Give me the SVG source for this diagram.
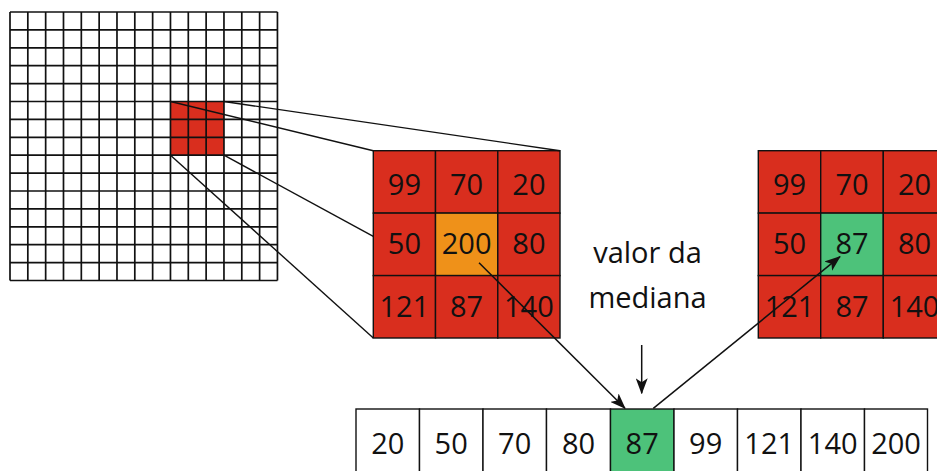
<svg xmlns="http://www.w3.org/2000/svg" width="937" height="471" viewBox="0 0 937 471">
  <style>
    .num { font-family: "Open Sans", "DejaVu Sans", sans-serif; font-size: 29px; fill: #111; text-anchor: middle; }
    .lbl { font-family: "Open Sans", "DejaVu Sans", sans-serif; font-size: 29px; fill: #111; text-anchor: middle; }
    .cell { stroke: #111; stroke-width: 1.4; }
    .red { fill: #d92e1e; }
    .orange { fill: #ef9119; }
    .green { fill: #4dc27a; }
    .white { fill: #ffffff; }
    .gridline { stroke: #111; stroke-width: 1.7; }
    .guide { stroke: #111; stroke-width: 1.4; fill: none; }
    .arrow { stroke: #111; stroke-width: 1.5; fill: none; marker-end: url(#head); }
  </style>
  <defs>
    <marker id="head" viewBox="0 0 16 12" refX="15" refY="6" markerWidth="16" markerHeight="12" markerUnits="userSpaceOnUse" orient="auto">
      <path d="M0,0 L16,6 L0,12 L4,6 Z" fill="#111"/>
    </marker>
  </defs>
  <rect width="937" height="471" fill="#ffffff"/>

  <!-- 15x15 pixel image with the 3x3 neighbourhood highlighted -->
  <g id="image-grid">
    <rect x="170.5" y="101.5" width="53.5" height="53.7" class="red"/>
    <g class="gridline">
      <line x1="10" y1="12" x2="10" y2="280.5"/>
      <line x1="27.83" y1="12" x2="27.83" y2="280.5"/>
      <line x1="45.66" y1="12" x2="45.66" y2="280.5"/>
      <line x1="63.49" y1="12" x2="63.49" y2="280.5"/>
      <line x1="81.32" y1="12" x2="81.32" y2="280.5"/>
      <line x1="99.15" y1="12" x2="99.15" y2="280.5"/>
      <line x1="116.98" y1="12" x2="116.98" y2="280.5"/>
      <line x1="134.81" y1="12" x2="134.81" y2="280.5"/>
      <line x1="152.64" y1="12" x2="152.64" y2="280.5"/>
      <line x1="170.47" y1="12" x2="170.47" y2="280.5"/>
      <line x1="188.3" y1="12" x2="188.3" y2="280.5"/>
      <line x1="206.13" y1="12" x2="206.13" y2="280.5"/>
      <line x1="223.96" y1="12" x2="223.96" y2="280.5"/>
      <line x1="241.79" y1="12" x2="241.79" y2="280.5"/>
      <line x1="259.62" y1="12" x2="259.62" y2="280.5"/>
      <line x1="277.45" y1="12" x2="277.45" y2="280.5"/>
      <line x1="10" y1="12" x2="277.45" y2="12"/>
      <line x1="10" y1="29.9" x2="277.45" y2="29.9"/>
      <line x1="10" y1="47.8" x2="277.45" y2="47.8"/>
      <line x1="10" y1="65.7" x2="277.45" y2="65.7"/>
      <line x1="10" y1="83.6" x2="277.45" y2="83.6"/>
      <line x1="10" y1="101.5" x2="277.45" y2="101.5"/>
      <line x1="10" y1="119.4" x2="277.45" y2="119.4"/>
      <line x1="10" y1="137.3" x2="277.45" y2="137.3"/>
      <line x1="10" y1="155.2" x2="277.45" y2="155.2"/>
      <line x1="10" y1="173.1" x2="277.45" y2="173.1"/>
      <line x1="10" y1="191" x2="277.45" y2="191"/>
      <line x1="10" y1="208.9" x2="277.45" y2="208.9"/>
      <line x1="10" y1="226.8" x2="277.45" y2="226.8"/>
      <line x1="10" y1="244.7" x2="277.45" y2="244.7"/>
      <line x1="10" y1="262.6" x2="277.45" y2="262.6"/>
      <line x1="10" y1="280.5" x2="277.45" y2="280.5"/>
    </g>
  </g>

  <!-- enlarged neighbourhood before filtering -->
  <g id="kernel-window">
    <rect x="373.3" y="150.7" width="62.2" height="62.4" class="cell red"/>
    <rect x="435.5" y="150.7" width="62.3" height="62.4" class="cell red"/>
    <rect x="497.8" y="150.7" width="62.2" height="62.4" class="cell red"/>
    <rect x="373.3" y="213.1" width="62.2" height="62.5" class="cell red"/>
    <rect x="435.5" y="213.1" width="62.3" height="62.5" class="cell orange"/>
    <rect x="497.8" y="213.1" width="62.2" height="62.5" class="cell red"/>
    <rect x="373.3" y="275.6" width="62.2" height="62.4" class="cell red"/>
    <rect x="435.5" y="275.6" width="62.3" height="62.4" class="cell red"/>
    <rect x="497.8" y="275.6" width="62.2" height="62.4" class="cell red"/>
    <text x="404.4" y="194.5" class="num">99</text>
    <text x="466.6" y="194.5" class="num">70</text>
    <text x="528.9" y="194.5" class="num">20</text>
    <text x="404.4" y="254" class="num">50</text>
    <text x="466.6" y="254" class="num">200</text>
    <text x="528.9" y="254" class="num">80</text>
    <text x="404.4" y="316.5" class="num">121</text>
    <text x="466.6" y="316.5" class="num">87</text>
    <text x="528.9" y="316.5" class="num">140</text>
  </g>

  <!-- neighbourhood after filtering; its right column runs past the edge -->
  <g id="median-window">
    <rect x="758.3" y="150.7" width="62.4" height="62.4" class="cell red"/>
    <rect x="820.7" y="150.7" width="62.6" height="62.4" class="cell red"/>
    <rect x="883.3" y="150.7" width="62.4" height="62.4" class="cell red"/>
    <rect x="758.3" y="213.1" width="62.4" height="62.5" class="cell red"/>
    <rect x="820.7" y="213.1" width="62.6" height="62.5" class="cell green"/>
    <rect x="883.3" y="213.1" width="62.4" height="62.5" class="cell red"/>
    <rect x="758.3" y="275.6" width="62.4" height="62.4" class="cell red"/>
    <rect x="820.7" y="275.6" width="62.6" height="62.4" class="cell red"/>
    <rect x="883.3" y="275.6" width="62.4" height="62.4" class="cell red"/>
    <text x="789.5" y="194.5" class="num">99</text>
    <text x="852" y="194.5" class="num">70</text>
    <text x="914.5" y="194.5" class="num">20</text>
    <text x="789.5" y="254" class="num">50</text>
    <text x="852" y="254" class="num">87</text>
    <text x="914.5" y="254" class="num">80</text>
    <text x="789.5" y="316.5" class="num">121</text>
    <text x="852" y="316.5" class="num">87</text>
    <text x="914.5" y="316.5" class="num">140</text>
  </g>

  <!-- sorted neighbourhood values -->
  <g id="sorted-values">
    <rect x="356" y="409" width="63.5" height="64" class="cell white"/>
    <rect x="419.5" y="409" width="63.5" height="64" class="cell white"/>
    <rect x="483" y="409" width="63.5" height="64" class="cell white"/>
    <rect x="546.5" y="409" width="64" height="64" class="cell white"/>
    <rect x="610.5" y="409" width="63.5" height="64" class="cell green"/>
    <rect x="674" y="409" width="63.5" height="64" class="cell white"/>
    <rect x="737.5" y="409" width="63.5" height="64" class="cell white"/>
    <rect x="801" y="409" width="63.5" height="64" class="cell white"/>
    <rect x="864.5" y="409" width="63" height="64" class="cell white"/>
    <text x="387.8" y="454" class="num">20</text>
    <text x="451.2" y="454" class="num">50</text>
    <text x="514.7" y="454" class="num">70</text>
    <text x="578.5" y="454" class="num">80</text>
    <text x="642.2" y="454" class="num">87</text>
    <text x="705.7" y="454" class="num">99</text>
    <text x="769.2" y="454" class="num">121</text>
    <text x="832.7" y="454" class="num">140</text>
    <text x="896" y="454" class="num">200</text>
  </g>

  <g id="median-label">
    <text x="647.5" y="263" class="lbl">valor da</text>
    <text x="647.5" y="308" class="lbl">mediana</text>
  </g>

  <g id="connectors">
    <!-- projection of the 3x3 neighbourhood onto the enlarged window -->
    <line x1="170.5" y1="101.5" x2="373.3" y2="150.7" class="guide"/>
    <line x1="224" y1="101.5" x2="560" y2="150.7" class="guide"/>
    <line x1="170.5" y1="155.2" x2="373.3" y2="338" class="guide"/>
    <line x1="224" y1="155.2" x2="373.3" y2="236.4" class="guide"/>
    <!-- value flow -->
    <line x1="479" y1="262.7" x2="625" y2="408.3" class="arrow"/>
    <line x1="653.3" y1="408.3" x2="840" y2="256.7" class="arrow"/>
    <line x1="641.7" y1="345" x2="641.7" y2="393.3" class="arrow"/>
  </g>
</svg>
